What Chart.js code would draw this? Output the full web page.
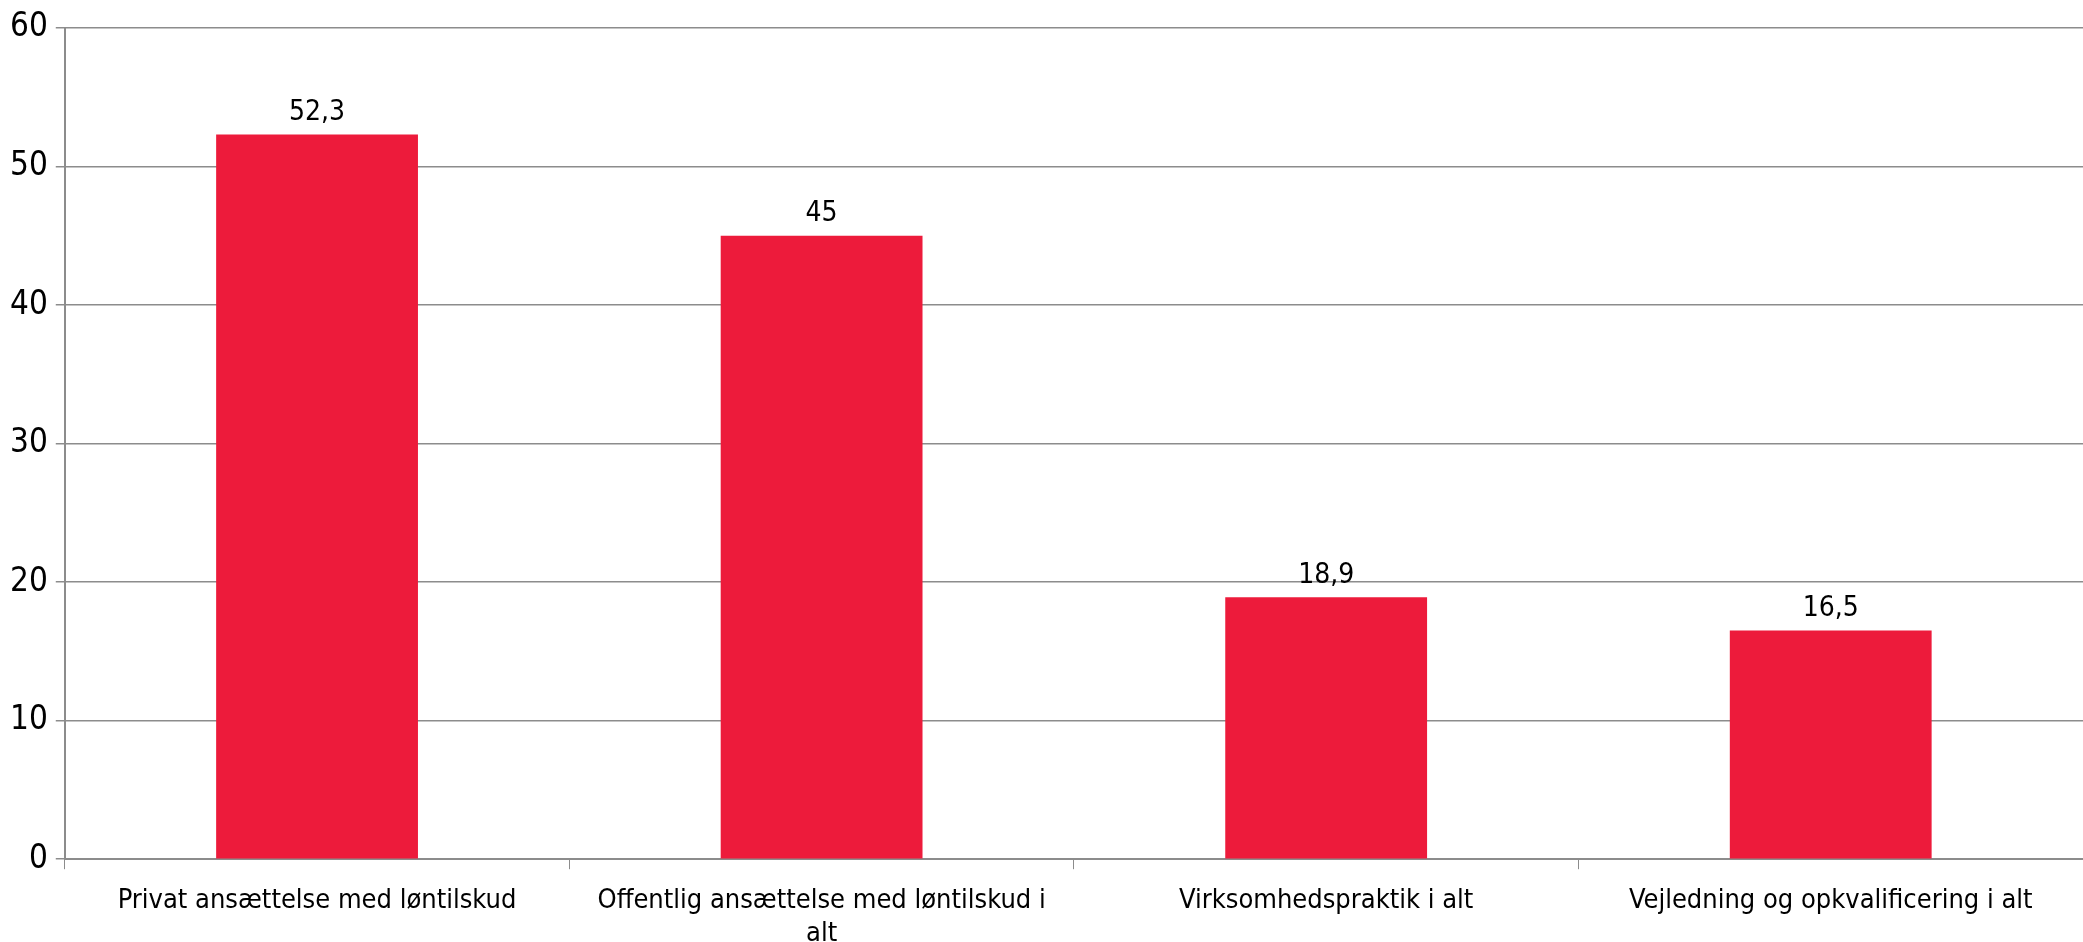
<!DOCTYPE html>
<html>
<head>
<meta charset="utf-8">
<script src="https://cdn.jsdelivr.net/npm/chart.js@4/dist/chart.umd.min.js"></script>
<style>
    html, body { margin: 0; padding: 0; background: #fff; }
    #wrap { width: 2083px; height: 942px; }
</style>
</head>
<body>
<div id="wrap"><canvas id="barChart"></canvas></div>
<script>
// Chart data
const categories = [
    "Privat ansættelse med løntilskud",
    ["Offentlig ansættelse med løntilskud i", "alt"],
    "Virksomhedspraktik i alt",
    "Vejledning og opkvalificering i alt",
];
const values = [52.3, 45, 18.9, 16.5];
const valueLabels = ["52,3", "45", "18,9", "16,5"];
const yTicks = [0, 10, 20, 30, 40, 50, 60];

const fontFamily = "'DejaVu Sans Condensed', 'DejaVu Sans', sans-serif";

// Draw the value above each bar
const valueLabelPlugin = {
    id: "valueLabels",
    afterDatasetsDraw(chart) {
        const ctx = chart.ctx;
        const meta = chart.getDatasetMeta(0);
        ctx.save();
        ctx.fillStyle = "#000";
        ctx.font = "28px " + fontFamily;
        ctx.textAlign = "center";
        ctx.textBaseline = "bottom";
        meta.data.forEach(function (bar, i) {
            ctx.fillText(valueLabels[i], bar.x, bar.y - 8);
        });
        ctx.restore();
    },
};

function initBarChart() {
    const ctx = document.getElementById("barChart");
    if (!ctx) return;

    new Chart(ctx, {
        type: "bar",
        data: {
            labels: categories,
            datasets: [
                {
                    data: values,
                    backgroundColor: "#ED1B3B",
                    borderWidth: 0,
                    categoryPercentage: 1,
                    barPercentage: 0.4,
                },
            ],
        },
        options: {
            responsive: true,
            maintainAspectRatio: false,
            animation: false,
            devicePixelRatio: 1,
            layout: {
                padding: { top: 10, right: 0, bottom: -24, left: 2 },
            },
            plugins: {
                legend: { display: false },
                tooltip: { enabled: false },
            },
            scales: {
                x: {
                    offset: true,
                    grid: {
                        offset: true,
                        drawOnChartArea: false,
                        color: "#8C8C8C",
                        tickLength: 10,
                    },
                    border: { color: "#8C8C8C", width: 2 },
                    ticks: {
                        color: "#000",
                        padding: 16,
                        maxRotation: 0,
                        autoSkip: false,
                        font: { family: fontFamily, size: 27, lineHeight: 1.2 },
                    },
                },
                y: {
                    min: 0,
                    max: 60,
                    afterBuildTicks: function (axis) {
                        axis.ticks = yTicks.map(function (v) { return { value: v }; });
                    },
                    grid: {
                        color: "#8C8C8C",
                        lineWidth: 1.5,
                        tickLength: 9,
                    },
                    border: { color: "#8C8C8C", width: 2 },
                    ticks: {
                        color: "#000",
                        padding: 8,
                        font: { family: fontFamily, size: 33 },
                    },
                },
            },
        },
        plugins: [valueLabelPlugin],
    });
}

document.addEventListener("DOMContentLoaded", initBarChart);
</script>
</body>
</html>
